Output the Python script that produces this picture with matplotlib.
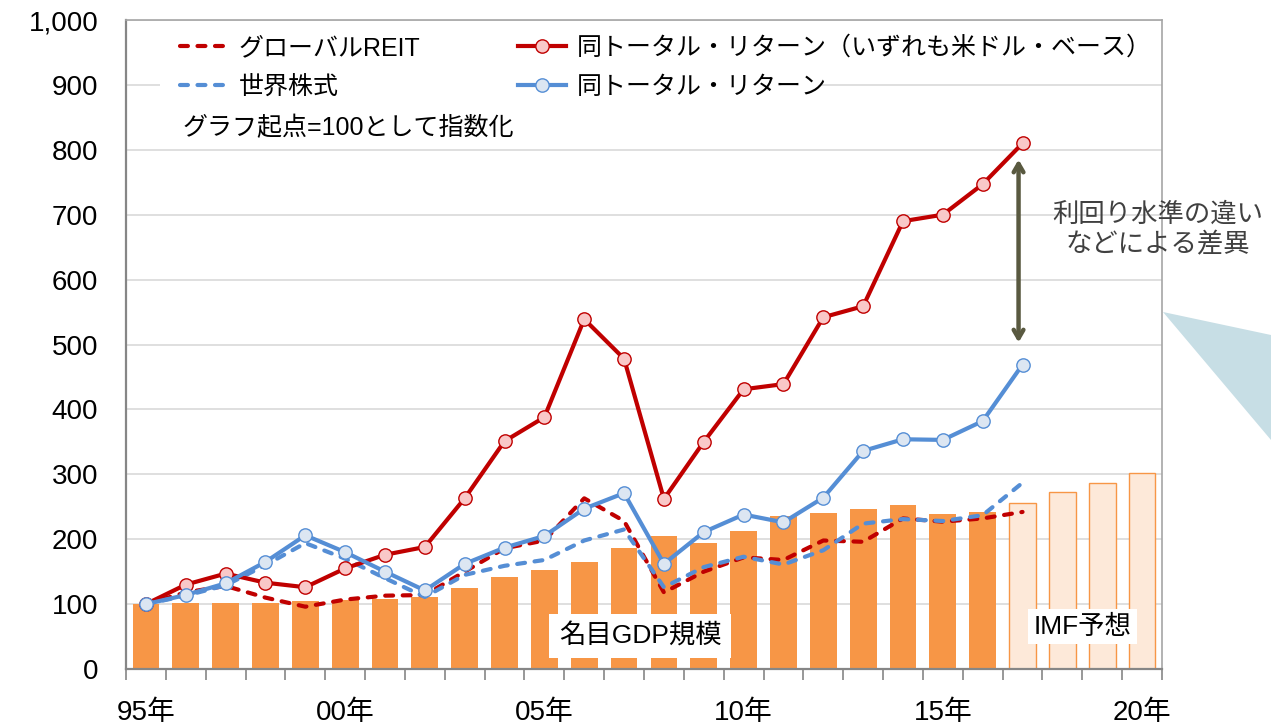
import numpy as np
import matplotlib
matplotlib.use("Agg")
import matplotlib.pyplot as plt
from matplotlib.lines import Line2D
from matplotlib.patches import Polygon, Rectangle

plt.rcParams['font.family'] = ['Liberation Sans', 'Noto Sans CJK JP', 'DejaVu Sans']

# ---------------- data ----------------
years = list(range(1995, 2021))
gdp_actual = [100, 102, 102, 101, 105, 107, 108, 111, 125, 141, 153, 165, 187,
              205, 194, 212, 235, 240, 246, 253, 239, 242]
gdp_forecast = [256, 272, 287, 302]  # 2017-2020 IMF forecast

reit_price = [100, 118, 128, 110, 96, 107, 113, 114, 150, 186, 198, 263, 228,
              118, 150, 172, 168, 198, 196, 232, 227, 232, 242]
reit_total = [100, 130, 147, 133, 126, 155, 176, 188, 263, 351, 388, 539, 478,
              262, 350, 431, 439, 542, 559, 690, 700, 747, 810]
equity_price = [100, 113, 129, 160, 194, 170, 140, 111, 145, 159, 168, 198, 215,
                126, 157, 173, 161, 183, 224, 231, 228, 237, 287]
equity_total = [100, 114, 132, 165, 206, 180, 150, 121, 162, 187, 205, 247, 271,
                162, 211, 238, 226, 264, 336, 354, 353, 382, 469]

xtick_labels = ['95年', '00年', '05年', '10年', '15年', '20年']
yticks = list(range(0, 1001, 100))

legend_labels = ['グローバルREIT', '世界株式',
                 '同トータル・リターン（いずれも米ドル・ベース）', '同トータル・リターン']

# ---------------- figure ----------------
W, H = 1271, 724
fig = plt.figure(figsize=(W / 100, H / 100), dpi=100)
ax = fig.add_axes([126 / W, 1 - 669 / H, (1162 - 126) / W, (669 - 20) / H])

RED = '#c00000'
BLUE = '#558ed5'
ORANGE = '#f79646'
LW = 3.0
MS = 9.6

n_act = len(gdp_actual)
x_act = np.arange(n_act)
x_fc = np.arange(n_act, n_act + len(gdp_forecast))
ax.bar(x_act, gdp_actual, width=0.67, color=ORANGE, zorder=2)
ax.bar(x_fc, gdp_forecast, width=0.67, facecolor='#fde9d9', edgecolor=ORANGE,
       linewidth=1.0, zorder=2)

xl = np.arange(len(reit_total))
dash = (0, (1.9, 2.3))
dkw = dict(lw=LW, linestyle=dash, dash_capstyle='round')
ax.plot(xl, reit_price, color=RED, zorder=4, **dkw)
ax.plot(xl, equity_price, color=BLUE, zorder=4, **dkw)
ax.plot(xl, reit_total, color=RED, lw=LW, marker='o', markersize=MS,
        markerfacecolor='#f9c8c8', markeredgecolor=RED, markeredgewidth=1.0, zorder=5)
ax.plot(xl, equity_total, color=BLUE, lw=LW, marker='o', markersize=MS,
        markerfacecolor='#dce6f2', markeredgecolor=BLUE, markeredgewidth=1.0, zorder=5)

ax.set_xlim(-0.5, len(years) - 0.5)
ax.set_ylim(0, 1000)
ax.set_yticks(yticks)
ax.set_yticklabels([f'{v:,}' for v in yticks], fontsize=20)
ax.tick_params(axis='y', length=0, pad=20)
ax.yaxis.grid(True, color='#d9d9d9', lw=1.2)
ax.set_axisbelow(True)

ax.set_xticks(np.arange(0, len(years), 5))
ax.set_xticklabels(xtick_labels, fontsize=20)
ax.set_xticks(np.arange(-0.5, len(years)), minor=True)
ax.tick_params(axis='x', which='major', length=0, pad=22)
ax.tick_params(axis='x', which='minor', length=8, width=1.2, color='#868686')

for s in ['left', 'bottom']:
    ax.spines[s].set_color('#868686')
    ax.spines[s].set_linewidth(1.6)
for s in ['top', 'right']:
    ax.spines[s].set_color('#a6a6a6')
    ax.spines[s].set_linewidth(1.2)

# white legend area
ax.add_patch(Rectangle((160 / W, 1 - 110 / H), (820 - 160) / W, (110 - 22) / H,
                       transform=fig.transFigure, facecolor='white',
                       edgecolor='none', zorder=3))

# legend
handles = [
    Line2D([], [], color=RED, **dkw),
    Line2D([], [], color=BLUE, **dkw),
    Line2D([], [], color=RED, lw=LW, marker='o', markersize=MS,
           markerfacecolor='#f9c8c8', markeredgecolor=RED, markeredgewidth=1.0),
    Line2D([], [], color=BLUE, lw=LW, marker='o', markersize=MS,
           markerfacecolor='#dce6f2', markeredgecolor=BLUE, markeredgewidth=1.0),
]
leg = ax.legend(handles, legend_labels, ncol=2, fontsize=18,
                loc='upper left', bbox_to_anchor=(160 / W, 1 - 16 / H),
                bbox_transform=fig.transFigure, frameon=False,
                handlelength=1.9, handletextpad=0.45, columnspacing=3.9,
                labelspacing=0.6, borderpad=0.3)
leg.set_zorder(6)

ax.text(0.93, 833, 'グラフ起点=100として指数化', fontsize=18, ha='left',
        va='center', zorder=7)

# annotation arrow and text
ax.annotate('', xy=(21.9, 503), xytext=(21.9, 785),
            arrowprops=dict(arrowstyle='<->,head_length=0.6,head_width=0.35',
                            color='#595940', lw=3.2, shrinkA=0, shrinkB=0),
            zorder=6)
fig.text(1158 / W, 1 - 230 / H, '利回り水準の違い\nなどによる差異', fontsize=19,
         color='#404040', ha='center', va='center', linespacing=1.25)

# labels in boxes
ax.text(12.4, 51, '名目GDP規模', fontsize=19, ha='center', va='center', zorder=7,
        bbox=dict(boxstyle='square,pad=0.35', facecolor='white', edgecolor='none'))
ax.text(23.5, 65, 'IMF予想', fontsize=19, ha='center', va='center', zorder=7,
        bbox=dict(boxstyle='square,pad=0.2', facecolor='white', edgecolor='none'))

# decorative triangle outside the plot
tri = Polygon([(1163 / W, 1 - 312 / H), (1.0, 1 - 335 / H), (1.0, 1 - 440 / H)],
              closed=True, transform=fig.transFigure, facecolor='#c7dee5',
              edgecolor='none')
fig.patches.append(tri)

fig.savefig('out.png', dpi=100)
